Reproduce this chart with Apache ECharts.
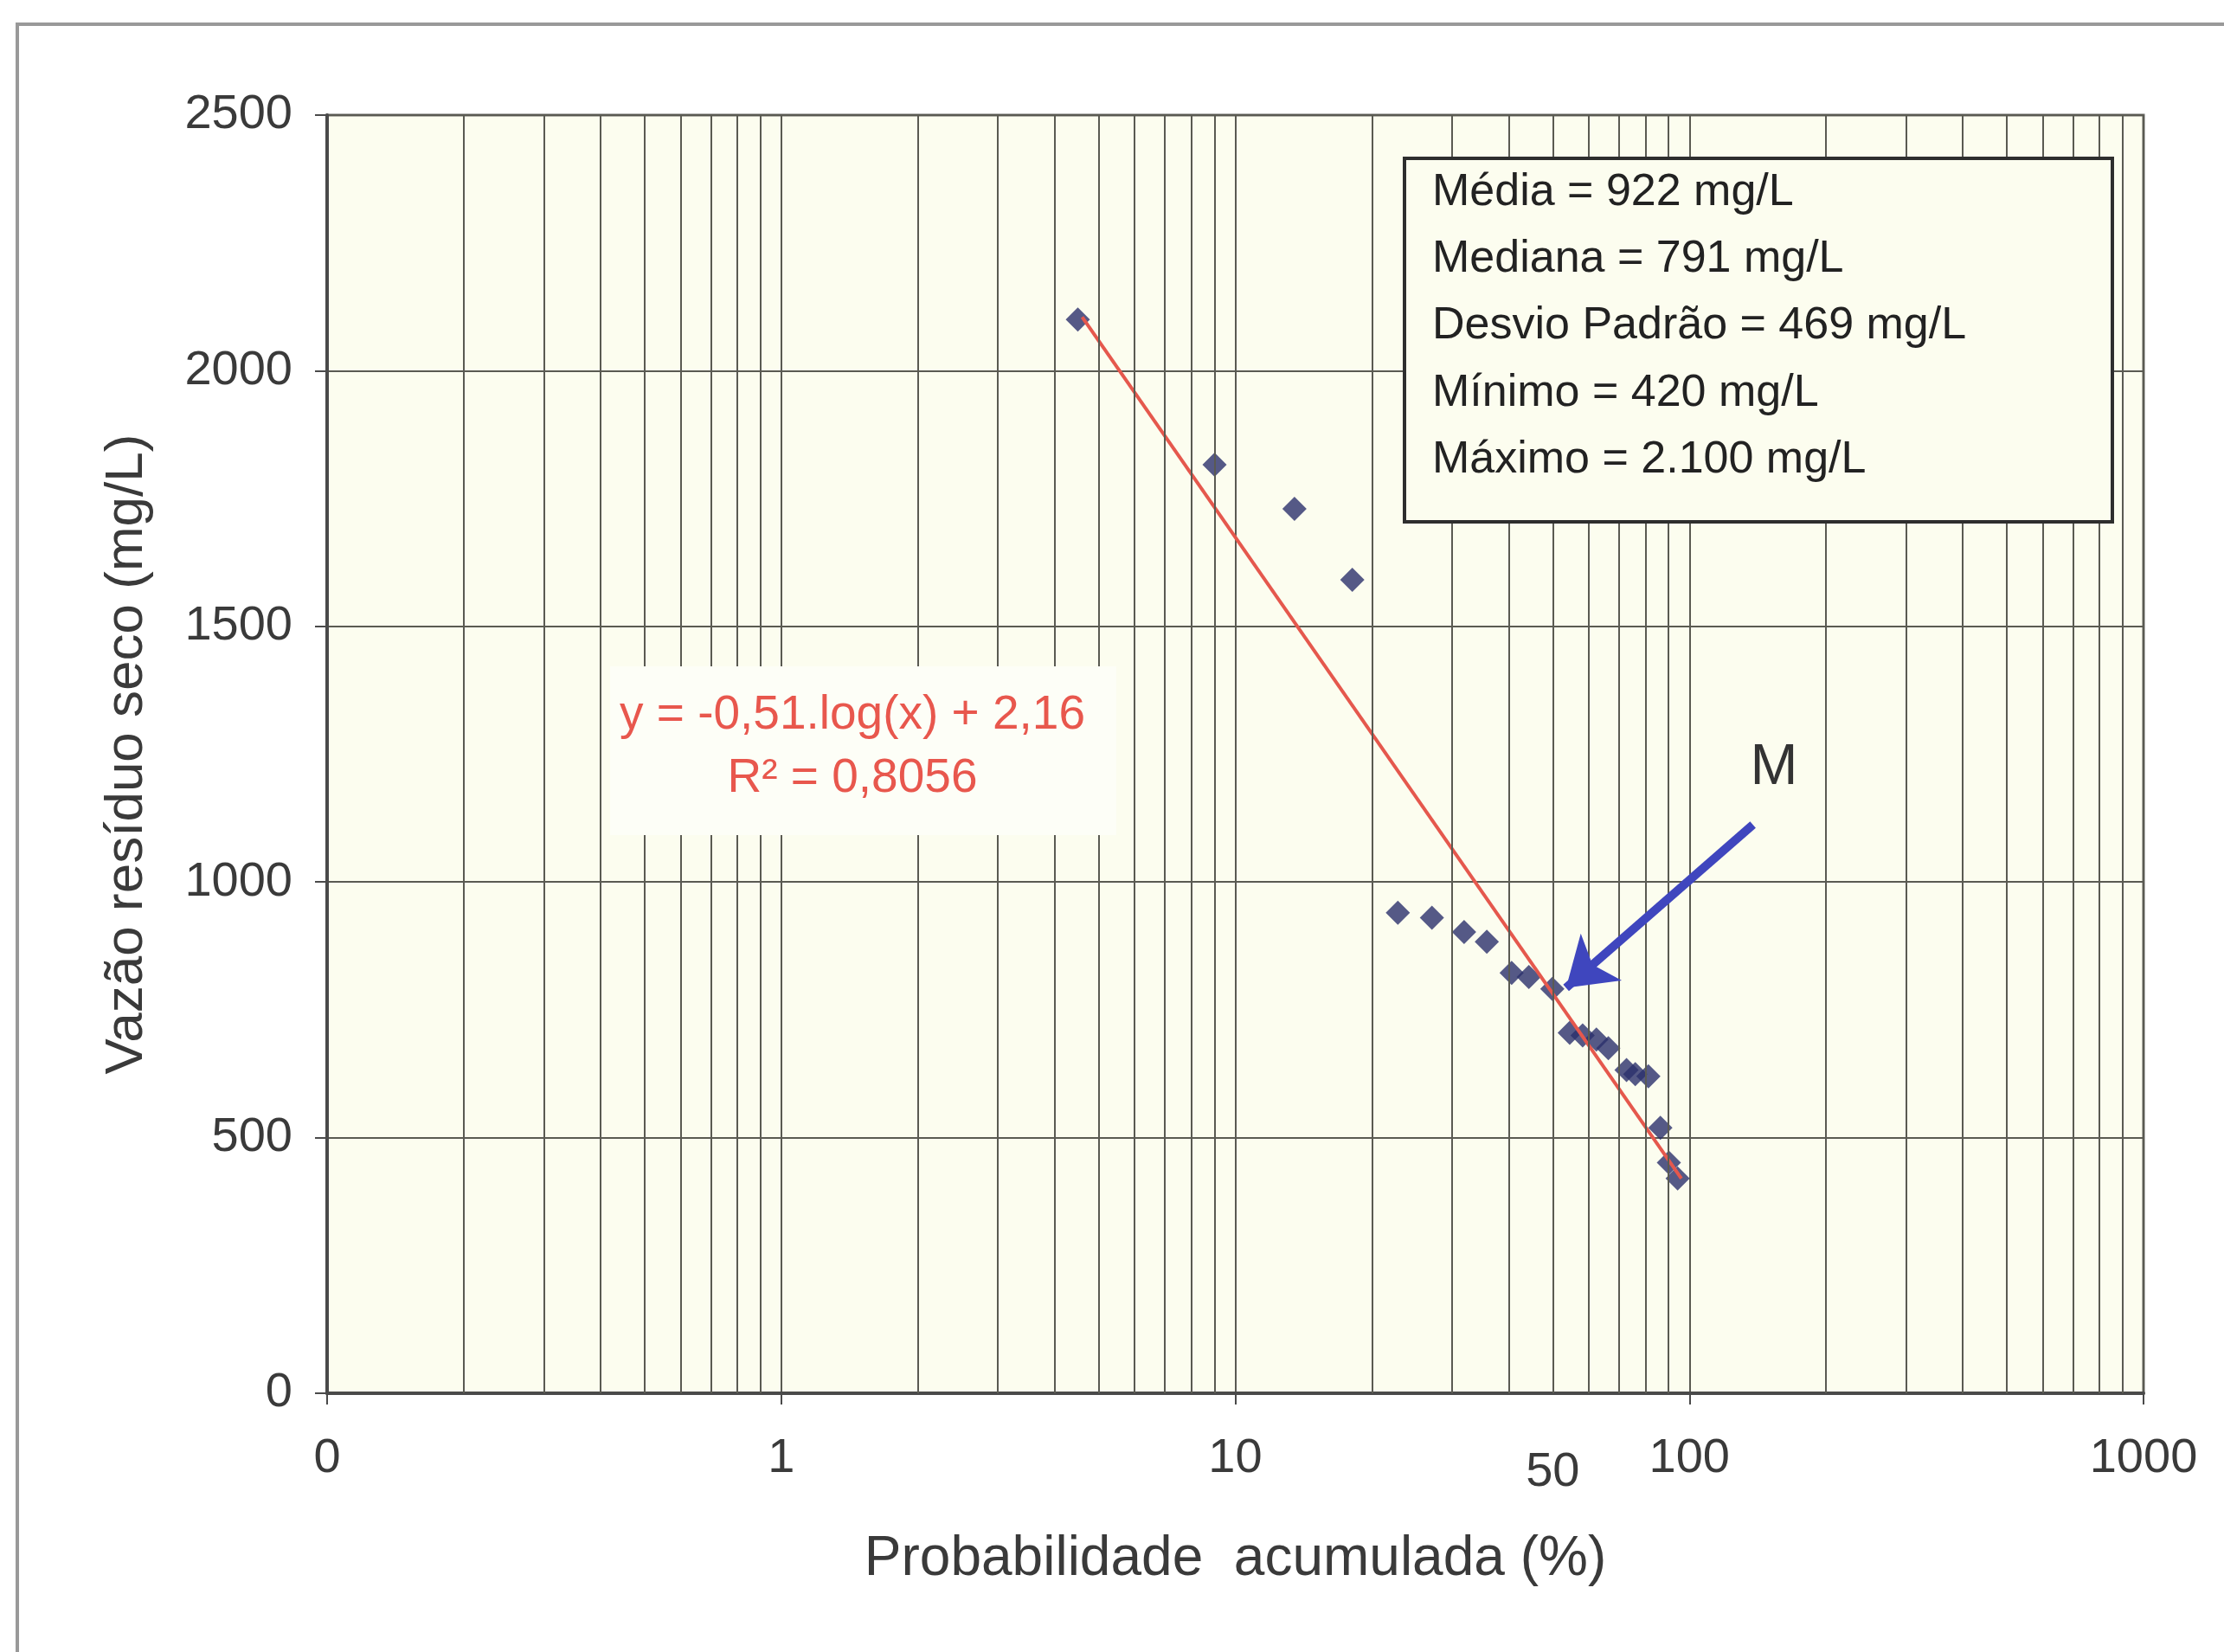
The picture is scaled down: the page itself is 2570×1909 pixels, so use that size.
<!DOCTYPE html>
<html><head><meta charset="utf-8">
<script src="https://cdn.jsdelivr.net/npm/echarts@6/dist/echarts.min.js"></script>
<style>html,body{margin:0;padding:0;background:#fff}#c{width:2570px;height:1909px}</style>
</head><body><div id="c"></div>
<script>
// Cumulative probability (%) of each sample (x) and dry residue (mg/L) (y)
const probabilidade = [4.5, 9.0, 13.5, 18.1, 22.8, 27.1, 31.9, 35.8, 40.6, 44.3, 49.9, 54.5, 58.2, 62.4, 66.3, 72.7, 76.0, 81.2, 86.3, 90.1, 94.2];
const residuo = [2100, 1816, 1730, 1591, 940, 930, 902, 883, 822, 814, 791, 705, 700, 692, 675, 632, 624, 620, 519, 451, 420];
// Logarithmic trend line end points
const trendX = [4.6, 96];
const trendY = [2105, 420];
// Minor vertical grid lines of the log axis
const minorGridX = [0.2,0.3,0.4,0.5,0.6,0.7,0.8,0.9, 2,3,4,5,6,7,8,9, 20,30,40,50,60,70,80,90, 200,300,400,500,600,700,800,900];
const xMin = 0.1, xMax = 1000;
const yMin = 0, yMax = 2500, yInterval = 500;
const extraXLabel = 50;
const statsLines = ['Média = 922 mg/L', 'Mediana = 791 mg/L', 'Desvio Padrão = 469 mg/L', 'Mínimo = 420 mg/L', 'Máximo = 2.100 mg/L'];
const equationLines = ['y = -0,51.log(x) + 2,16', 'R² = 0,8056'];
const arrowFrom = [138, 1112];
const arrowTo = [53.5, 793];
const markerLabel = 'M';

const FONT = '"Liberation Sans", Arial, sans-serif';
const PLOT_BG = '#FCFDEF';
const GRID_C = '#5a5a52';

const chart = echarts.init(document.getElementById('c'));
const points = probabilidade.map((x, i) => [x, residuo[i]]);

chart.setOption({
  animation: false,
  backgroundColor: '#ffffff',
  grid: { left: 378, right: 93, top: 133, bottom: 299, show: true, backgroundColor: PLOT_BG, borderColor: '#6a6a66', borderWidth: 3 },
  xAxis: {
    type: 'log', logBase: 10, min: xMin, max: xMax,
    name: 'Probabilidade  acumulada (%)', nameLocation: 'middle', nameGap: 160,
    nameTextStyle: { fontFamily: FONT, fontSize: 64, color: '#3a3a3a' },
    axisLine: { show: true, lineStyle: { color: '#4a4a4a', width: 4 } },
    axisTick: { show: true, length: 13, lineStyle: { color: '#4a4a4a', width: 2 } },
    axisLabel: { margin: 48, fontFamily: FONT, fontSize: 56, color: '#3a3a3a',
      formatter: v => (v < 1 ? '0' : String(Math.round(v))) },
    splitLine: { show: true, lineStyle: { color: GRID_C, width: 2 } },
    minorTick: { show: false }, minorSplitLine: { show: false }
  },
  yAxis: {
    type: 'value', min: yMin, max: yMax, interval: yInterval,
    name: 'Vazão resíduo seco (mg/L)', nameLocation: 'middle', nameGap: 200,
    nameTextStyle: { fontFamily: FONT, fontSize: 62, color: '#3a3a3a' },
    axisLine: { show: true, lineStyle: { color: '#4a4a4a', width: 4 } },
    axisTick: { show: true, length: 14, lineStyle: { color: '#4a4a4a', width: 2 } },
    axisLabel: { margin: 40, fontFamily: FONT, fontSize: 56, color: '#3a3a3a',
      formatter: v => String(v) },
    splitLine: { show: true, lineStyle: { color: GRID_C, width: 2 } }
  },
  series: [
    {
      type: 'scatter', name: 'minorGrid', data: [], z: 1, silent: true,
      markLine: {
        silent: true, symbol: ['none', 'none'], label: { show: false },
        lineStyle: { color: GRID_C, width: 2, type: 'solid' },
        emphasis: { disabled: true },
        data: minorGridX.map(v => ({ xAxis: v }))
      }
    },
    {
      type: 'scatter', name: 'Resíduo seco', data: points, z: 3,
      symbol: 'diamond', symbolSize: 28,
      itemStyle: { color: '#2B2F6B' }
    },
    {
      type: 'line', name: 'Tendência', z: 4,
      data: trendX.map((x, i) => [x, trendY[i]]),
      showSymbol: false, symbol: 'none',
      lineStyle: { color: '#E5584D', width: 4 },
      markLine: {
        silent: true, symbol: ['none', 'arrow'], symbolSize: 54,
        label: { show: false },
        lineStyle: { color: '#3F46BE', width: 10, type: 'solid' },
        itemStyle: { color: '#3F46BE' },
        emphasis: { disabled: true },
        data: [[{ coord: arrowFrom }, { coord: arrowTo }]]
      }
    }
  ]
});

const p50 = chart.convertToPixel({ gridIndex: 0 }, [extraXLabel, 0]);
const graphics = [
  { type: 'rect', z: 0, silent: true, shape: { x: 20, y: 28, width: 2620, height: 1960 },
    style: { fill: 'none', stroke: '#999', lineWidth: 4 } },
  // statistics box
  { type: 'rect', z: 20, silent: true, shape: { x: 1623, y: 183, width: 818, height: 420 },
    style: { fill: PLOT_BG, stroke: '#2e2e2e', lineWidth: 4 } },
  // equation background
  { type: 'rect', z: 20, silent: true, shape: { x: 705, y: 770, width: 585, height: 195 },
    style: { fill: '#FDFEF7' } },
  { type: 'text', z: 21, silent: true, style: { text: String(extraXLabel), x: p50[0], y: 1702,
      font: '56px ' + FONT, fill: '#3a3a3a', align: 'center', verticalAlign: 'middle' } },
  { type: 'text', z: 21, silent: true, style: { text: markerLabel, x: 2050, y: 888,
      font: '66px ' + FONT, fill: '#333', align: 'center', verticalAlign: 'middle' } }
];
const statsY = [223, 300, 377, 455, 532];
statsLines.forEach((t, i) => graphics.push({ type: 'text', z: 21, silent: true,
  style: { text: t, x: 1655, y: statsY[i], font: '52px ' + FONT, fill: '#222', align: 'left', verticalAlign: 'middle' } }));
const eqY = [827, 900];
equationLines.forEach((t, i) => graphics.push({ type: 'text', z: 21, silent: true,
  style: { text: t, x: 985, y: eqY[i], font: '55px ' + FONT, fill: '#E8574D', align: 'center', verticalAlign: 'middle' } }));
chart.setOption({ graphic: graphics });
</script>
</body></html>
